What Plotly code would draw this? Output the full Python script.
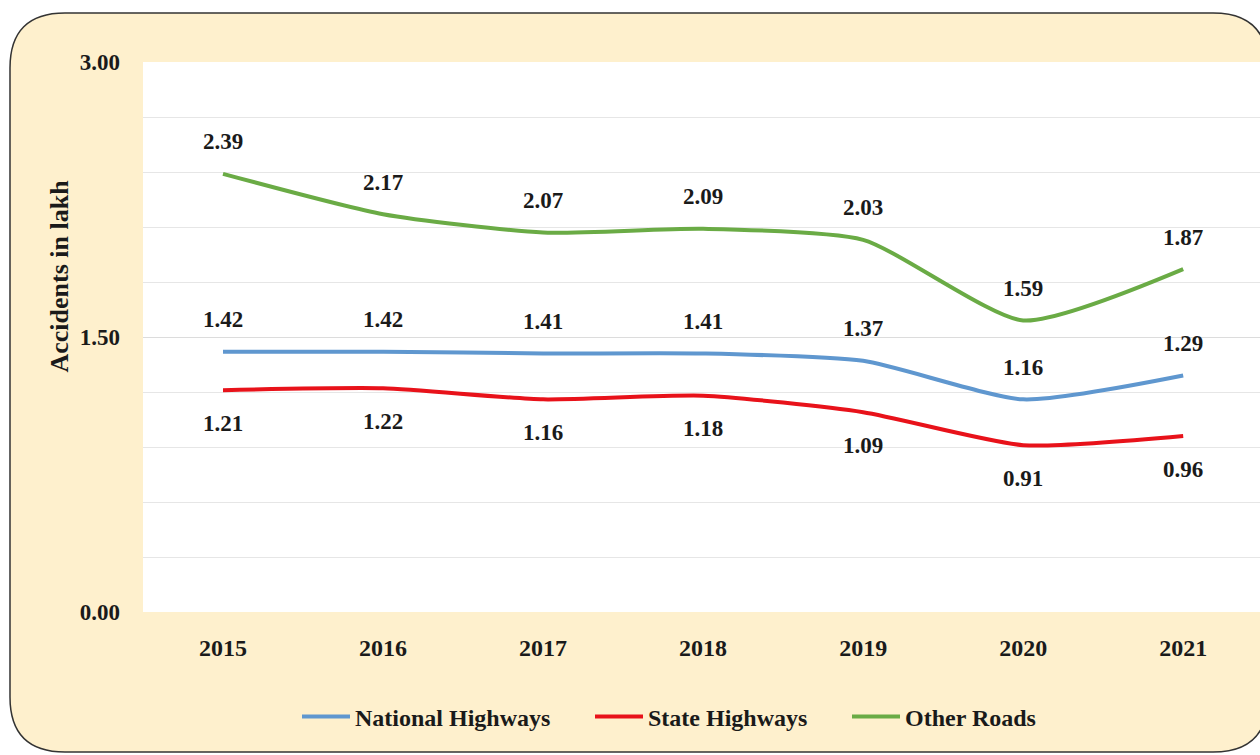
import plotly.graph_objects as go

years = ["2015", "2016", "2017", "2018", "2019", "2020", "2021"]
national = [1.42, 1.42, 1.41, 1.41, 1.37, 1.16, 1.29]
state = [1.21, 1.22, 1.16, 1.18, 1.09, 0.91, 0.96]
other = [2.39, 2.17, 2.07, 2.09, 2.03, 1.59, 1.87]
y_ticks = [0, 1.5, 3.0]
y_tick_text = ["0.00", "1.50", "3.00"]

W, H = 1260, 755
ML, MR, MT, MB = 143, 0, 62, 143
PW, PH = W - ML - MR, H - MT - MB
FONT = "Liberation Serif, Times New Roman, serif"
TXT = "#1a1a1a"


def px(xp):
    return (xp - ML) / PW


def py(yp):
    return (H - MB - yp) / PH


def rounded_rect(x0, y0, x1, y1, r):
    pts = [
        ("M", [(x0 + r, y0)]),
        ("L", [(x1 - r, y0)]),
        ("Q", [(x1, y0), (x1, y0 + r)]),
        ("L", [(x1, y1 - r)]),
        ("Q", [(x1, y1), (x1 - r, y1)]),
        ("L", [(x0 + r, y1)]),
        ("Q", [(x0, y1), (x0, y1 - r)]),
        ("L", [(x0, y0 + r)]),
        ("Q", [(x0, y0), (x0 + r, y0)]),
    ]
    s = ""
    for cmd, ps in pts:
        s += cmd + " " + " ".join(f"{px(a):.5f},{py(b):.5f}" for a, b in ps) + " "
    return s + "Z"


fig = go.Figure()
series = [
    ("National Highways", national, "#5F97CF", 32, "legend", 297),
    ("State Highways", state, "#E8121A", -33, "legend2", 590),
    ("Other Roads", other, "#6AAB45", 32, "legend3", 847),
]
for name, vals, color, _, lg, _ in series:
    fig.add_trace(go.Scatter(
        x=years, y=vals, name=name, mode="lines", legend=lg,
        line=dict(color=color, width=4, shape="spline", smoothing=0.6),
    ))

for name, vals, color, shift, _, _ in series:
    for i, yv in enumerate(vals):
        fig.add_annotation(
            x=i, y=yv, text=f"{yv:.2f}", showarrow=False, yshift=shift,
            font=dict(family=FONT, size=23, color=TXT, weight="bold"),
        )

fig.add_shape(
    type="path", xref="paper", yref="paper", layer="below",
    path=rounded_rect(10, 13, 1268, 752, 55),
    fillcolor="#FEF0CD", line=dict(color="#333333", width=1.5),
)
fig.add_shape(
    type="rect", xref="paper", yref="paper", layer="below",
    x0=0, x1=1, y0=0, y1=1, fillcolor="white", line=dict(width=0),
)

fig.add_annotation(
    xref="paper", yref="paper", x=px(42), y=py(276), text="Accidents in lakh",
    textangle=-90, showarrow=False,
    font=dict(family=FONT, size=26, color=TXT, weight="bold"),
)

legends = {}
for _, _, _, _, lg, lx in series:
    legends[lg] = dict(
        orientation="h", xref="container", yref="container",
        x=lx / W, y=1 - 717 / H, xanchor="left", yanchor="middle",
        bgcolor="rgba(0,0,0,0)", borderwidth=0,
        font=dict(family=FONT, size=24, weight="bold", color=TXT),
        itemwidth=48,
    )

fig.update_layout(
    width=W, height=H,
    margin=dict(l=ML, r=MR, t=MT, b=MB),
    paper_bgcolor="white", plot_bgcolor="white",
    font=dict(family=FONT, size=23, color=TXT, weight="bold"),
    showlegend=True,
    xaxis=dict(
        type="category", range=[-0.5, 6.48], showgrid=False, zeroline=False,
        showline=False, ticks="", ticklabelstandoff=19,
        tickfont=dict(family=FONT, size=24, weight="bold", color=TXT),
    ),
    yaxis=dict(
        range=[0, 3.0], tickvals=y_ticks, ticktext=y_tick_text,
        showgrid=True, gridcolor="#DCDCDC", gridwidth=1, zeroline=False,
        showline=False, ticks="", ticklabelstandoff=22,
        tickfont=dict(family=FONT, size=23, weight="bold", color=TXT),
        minor=dict(dtick=0.3, showgrid=True, gridcolor="#E6E6E6", gridwidth=1),
    ),
    **legends,
)

fig.write_html("out.html", config={"displayModeBar": False},
               post_script="document.body.style.margin='0';")
